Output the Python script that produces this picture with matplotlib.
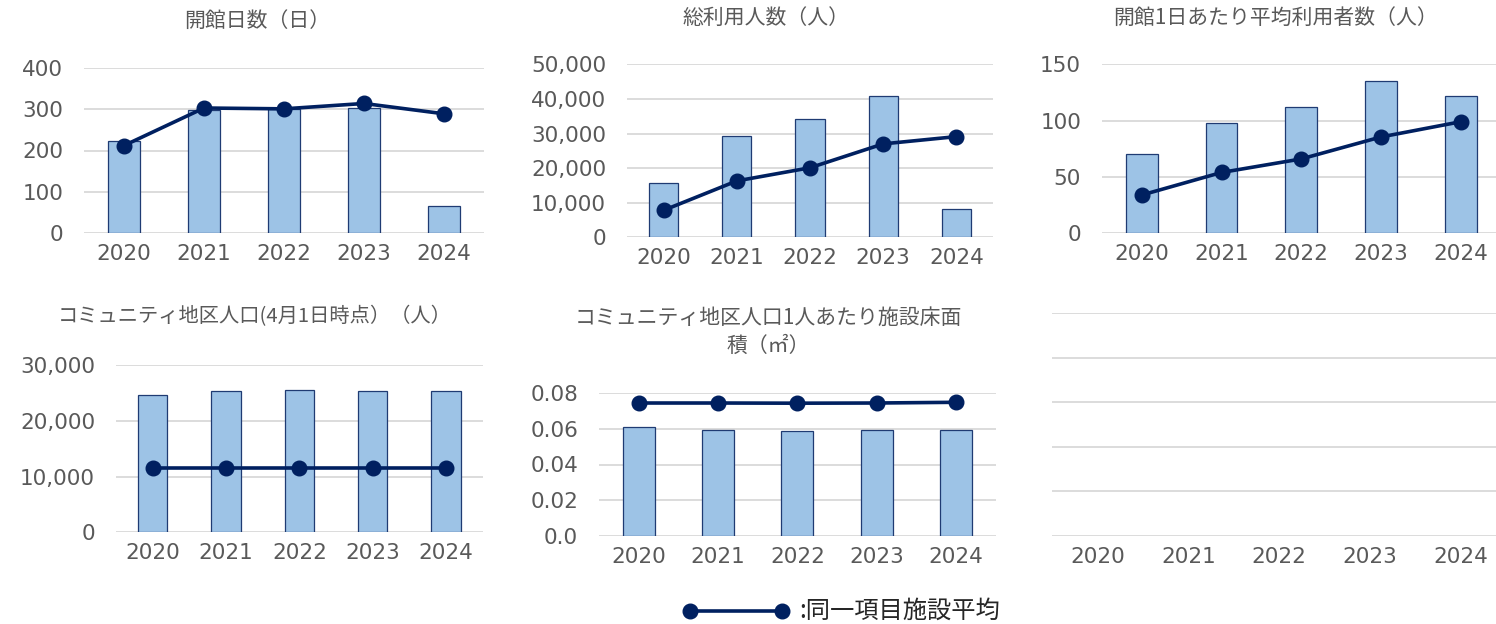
import matplotlib
matplotlib.use("Agg")
import matplotlib.pyplot as plt
from matplotlib.lines import Line2D
from matplotlib.ticker import FuncFormatter

plt.rcParams['font.family'] = ['Noto Sans CJK JP', 'DejaVu Sans']

years = ['2020', '2021', '2022', '2023', '2024']

days = [222, 299, 300, 303, 65]
days_avg = [212, 303, 301, 314, 289]

users = [15700, 29400, 34200, 40800, 8100]
users_avg = [7800, 16300, 20100, 27000, 29100]

daily = [70, 98, 112, 135.5, 122]
daily_avg = [34, 54, 66, 85.5, 99]

pop = [24700, 25400, 25450, 25400, 25300]
pop_avg = [11550, 11550, 11550, 11550, 11550]

area = [0.0608, 0.0591, 0.0589, 0.0591, 0.0595]
area_avg = [0.0744, 0.0744, 0.0743, 0.0744, 0.0748]

W, H = 1496, 624
BAR = '#9DC3E6'
EDGE = '#1F3B73'
NAVY = '#002060'
GRID = '#D9D9D9'
TXT = '#595959'

fig = plt.figure(figsize=(W / 100, H / 100), dpi=100)


def px_axes(l, t, r, b):
    return fig.add_axes([l / W, 1 - b / H, (r - l) / W, (b - t) / H])


def setup(ax, ymax, step, fmt=None):
    ax.set_xlim(-0.5, 4.5)
    ax.set_ylim(0, ymax)
    ticks = [i * step for i in range(int(round(ymax / step)) + 1)]
    ax.set_yticks(ticks)
    ax.set_xticks(range(len(years)))
    ax.set_xticklabels(years)
    if fmt is not None:
        ax.yaxis.set_major_formatter(FuncFormatter(fmt))
    for s in ax.spines.values():
        s.set_visible(False)
    ax.grid(axis='y', color=GRID, lw=1.3, zorder=0)
    ax.set_axisbelow(True)
    ax.tick_params(length=0, labelsize=15.5, labelcolor=TXT,
                   labelfontfamily='DejaVu Sans')
    ax.tick_params(axis='y', pad=15)
    ax.tick_params(axis='x', pad=8)
    ax.patch.set_alpha(0)


def draw(ax, bars, line):
    x = range(len(years))
    ax.bar(x, bars, width=0.4, color=BAR, edgecolor=EDGE, lw=0.9, zorder=2)
    ax.plot(x, line, color=NAVY, lw=2.6, marker='o', ms=10.5, zorder=3,
            clip_on=False)


def title(x, y, s):
    fig.text(x / W, 1 - y / H, s, ha='center', va='center', fontsize=15,
             color=TXT)


comma = lambda v, p: f'{int(v):,}'

ax1 = px_axes(84, 68, 484, 233)
setup(ax1, 400, 100)
draw(ax1, days, days_avg)
title(257, 21, '開館日数（日）')

ax2 = px_axes(627, 64.3, 993, 237.3)
setup(ax2, 50000, 10000, comma)
draw(ax2, users, users_avg)
title(766, 18, '総利用人数（人）')

ax3 = px_axes(1102, 64.3, 1500.5, 233.3)
setup(ax3, 150, 50)
draw(ax3, daily, daily_avg)
title(1276, 18, '開館1日あたり平均利用者数（人）')

ax4 = px_axes(116, 365, 482.7, 532.3)
setup(ax4, 30000, 10000, comma)
draw(ax4, pop, pop_avg)
fig.text(255 / W, 1 - 317 / H, 'コミュニティ地区人口(4月1日時点）（人）',
         ha='center', va='center', fontsize=14.6, color=TXT)

ax5 = px_axes(599, 393, 995.7, 536)
setup(ax5, 0.08, 0.02, lambda v, p: '0.0' if v == 0 else f'{v:.2f}')
draw(ax5, area, area_avg)
title(768, 318, 'コミュニティ地区人口1人あたり施設床面')
title(768, 346, '積（㎡）')

ax6 = px_axes(1052.3, 313.3, 1506, 536)
setup(ax6, 5, 1)
ax6.set_yticklabels([])

# legend
yl = 1 - 610.5 / H
fig.add_artist(Line2D([690 / W, 782 / W], [yl, yl], transform=fig.transFigure,
                      color=NAVY, lw=2.6, marker='o', ms=10.5))
fig.text(799 / W, yl, ':同一項目施設平均', ha='left', va='center',
         fontsize=17.5, color='#262626')

fig.savefig('out.png', dpi=100, facecolor='white')
